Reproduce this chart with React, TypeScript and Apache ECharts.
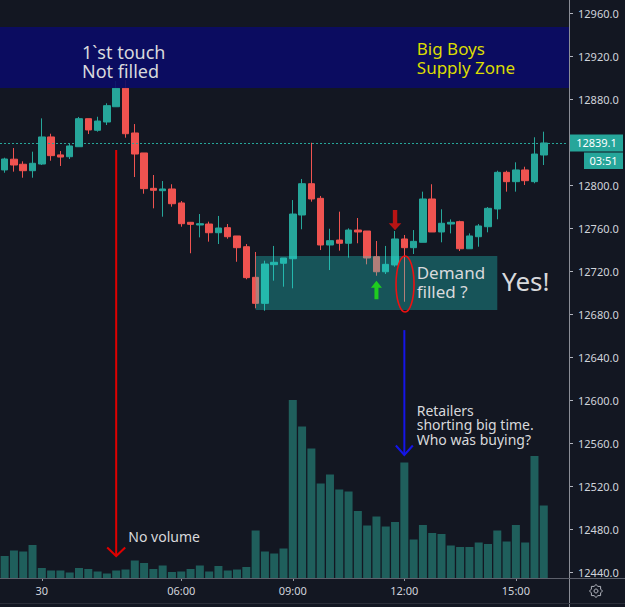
import React, { useEffect, useRef } from "react";
import * as echarts from "echarts";

// ---- data (15-minute bars) ----
const opens = [
  12814, 12824, 12819.3, 12813.3, 12819.5, 12844.7, 12828, 12826.3, 12835.6, 12861.7,
  12850.9, 12858.6, 12872.8, 12890, 12848.4, 12829.8, 12796.9, 12794.7, 12796.3, 12783.3,
  12765.3, 12762.8, 12763.7, 12755.6, 12760.3, 12752.6, 12742.6, 12714.1, 12689.9, 12725.9,
  12727.2, 12731.4, 12772.1, 12801.2, 12787.6, 12744.2, 12748.8, 12745.8, 12758.1, 12757.2,
  12733.3, 12719.3, 12725.6, 12749.8, 12741.7, 12746.7, 12787, 12756.3, 12763.7, 12765.9,
  12740.7, 12751.9, 12761.2, 12777.7, 12811.8, 12803.1, 12814, 12803.1, 12827.9,
];
const closes = [
  12824.2, 12818.6, 12813.3, 12820.2, 12844.7, 12827.3, 12826, 12836.3, 12861.7, 12851.2,
  12859.5, 12873.8, 12890, 12847.7, 12828.8, 12796.6, 12795.1, 12796.3, 12782.6, 12764,
  12763.4, 12764, 12755.6, 12760, 12751.9, 12741.7, 12713.8, 12689.9, 12726.5, 12728.1,
  12732.1, 12773, 12801.2, 12787, 12744.2, 12748.2, 12745.8, 12758.1, 12756.3, 12732.1,
  12719.3, 12726.2, 12749.8, 12741.7, 12747.6, 12787, 12756.3, 12764.4, 12765.3, 12740.7,
  12752.6, 12761.9, 12778.3, 12811.8, 12803.1, 12814, 12804, 12828.8, 12839.1,
];
const lows = [
  12811.4, 12812.4, 12806.8, 12806.8, 12818.6, 12822.6, 12817.7, 12824.2, 12835.6, 12847.4,
  12849.6, 12855.8, 12872.8, 12844, 12807.4, 12791.9, 12778.3, 12770.5, 12779.8, 12761.2,
  12736.5, 12751.3, 12747.3, 12745.1, 12750, 12728.6, 12712.3, 12685.3, 12683, 12711,
  12705.4, 12703.9, 12758.8, 12784.5, 12739.5, 12720.9, 12738.9, 12732.4, 12745.8, 12726.2,
  12715.6, 12717.2, 12724, 12691.4, 12735.8, 12746.7, 12756.3, 12746.7, 12755, 12738.6,
  12740.7, 12742.6, 12756, 12768.1, 12793.8, 12793.8, 12800, 12801.6, 12818.6,
];
const highs = [
  12825.4, 12834.4, 12822, 12831, 12862, 12847.7, 12831.6, 12838.1, 12863.3, 12861.7,
  12863.5, 12876, 12896.7, 12897.7, 12856.7, 12829.8, 12809.3, 12803.7, 12800.7, 12785.1,
  12765.6, 12773, 12765.9, 12771.2, 12763.7, 12752.6, 12745.1, 12737.7, 12729.6, 12743.3,
  12732.1, 12786, 12805.6, 12839.3, 12789.8, 12759.3, 12775.2, 12759.7, 12769.3, 12757.2,
  12747.9, 12743.3, 12757.2, 12753.5, 12758.1, 12793.8, 12800.7, 12777.4, 12768, 12766.8,
  12755, 12763.7, 12779.5, 12813.3, 12813.3, 12821.1, 12817, 12844.4, 12849.6,
];
const volumes = [
  22, 27.5, 26.5, 33, 10, 7.5, 7.5, 5.5, 10, 9,
  6.5, 4.5, 7.5, 8.5, 17.5, 15, 9, 12.5, 6, 6.5,
  9, 12.5, 6.5, 12, 7.5, 8.5, 11, 47.5, 26.5, 24.5,
  29.5, 178, 151.5, 129.5, 94.5, 103.5, 88.5, 86.5, 67, 52.5,
  61.5, 51.5, 56, 115.5, 38.5, 53, 45, 44, 32.5, 31,
  31, 35.5, 34, 47.5, 36.5, 53, 35.5, 122, 72.5,
];
const firstBarTime = "01:15";
const emptyBarsRight = 2;
const tickTimes = ["02:15", "06:00", "09:00", "12:00", "15:00"];
const tickNames = ["30", "06:00", "09:00", "12:00", "15:00"];
const priceMin = 12440;
const priceMax = 12960;
const priceStep = 40;
const volumeMax = 180;
const lastPrice = 12839.1;
const countdown = "03:51";
const supplyZone = { low: 12890.2, high: 12947 };
const demandZone = { fromBar: 27, toBar: 53, low: 12683.7, high: 12734 };

function buildCategories(): string[] {
  const [h, m] = firstBarTime.split(":").map(Number);
  const start = h * 60 + m;
  const out: string[] = [];
  for (let i = 0; i < opens.length + emptyBarsRight; i++) {
    const t = start + i * 15;
    const hh = String(Math.floor(t / 60) % 24).padStart(2, "0");
    const mm = String(t % 60).padStart(2, "0");
    out.push(`${hh}:${mm}`);
  }
  return out;
}

const UP = "#26a69a";
const DOWN = "#ef5350";
const BG = "#131722";
const FONT = "'Noto Sans', 'Open Sans', sans-serif";
const TXT = "#d8d9dc";

export default function App() {
  const ref = useRef<HTMLDivElement>(null);

  useEffect(() => {
    if (!ref.current) return;
    const chart = echarts.init(ref.current, undefined, { renderer: "svg", width: 625, height: 607 });
    const categories = buildCategories();
    const candleData = opens.map((o, i) => [o, closes[i], lows[i], highs[i]]);

    chart.setOption({
      animation: false,
      backgroundColor: BG,
      grid: [
        { left: 0, right: 58, top: 13, bottom: 35 },
        { left: 0, right: 58, top: 607 - 29 - volumeMax, bottom: 29 },
      ],
      xAxis: [
        { type: "category", gridIndex: 0, data: categories, boundaryGap: true, show: false },
        {
          type: "category",
          gridIndex: 1,
          data: categories,
          boundaryGap: true,
          axisLine: { show: false },
          axisTick: {
            show: true,
            alignWithLabel: true,
            length: 3,
            interval: (_i: number, v: string) => tickTimes.includes(v),
            lineStyle: { color: "#9598a1" },
          },
          axisLabel: {
            interval: (_i: number, v: string) => tickTimes.includes(v),
            formatter: (v: string) => {
              const k = tickTimes.indexOf(v);
              return k >= 0 ? tickNames[k] : "";
            },
            color: "#d1d4dc",
            fontSize: 11,
            fontFamily: FONT,
            margin: 7,
          },
          splitLine: { show: false },
        },
      ],
      yAxis: [
        {
          type: "value",
          gridIndex: 0,
          position: "right",
          offset: 2,
          min: priceMin,
          max: priceMax,
          interval: priceStep,
          axisLine: { show: false },
          axisTick: { show: true, length: 4, lineStyle: { color: "#b2b5be" } },
          axisLabel: {
            formatter: (v: number) => v.toFixed(1),
            color: "#d1d4dc",
            fontSize: 11,
            fontFamily: FONT,
            margin: 9,
          },
          splitLine: { show: false },
        },
        { type: "value", gridIndex: 1, min: 0, max: volumeMax, show: false, splitLine: { show: false } },
      ],
      series: [
        {
          type: "bar",
          xAxisIndex: 1,
          yAxisIndex: 1,
          data: volumes,
          barWidth: 8,
          itemStyle: { color: "#1f5f5c" },
          z: 1,
        },
        {
          type: "candlestick",
          xAxisIndex: 0,
          yAxisIndex: 0,
          data: candleData,
          barWidth: 7,
          itemStyle: { color: UP, color0: DOWN, borderColor: UP, borderColor0: DOWN, borderWidth: 1 },
          z: 3,
          markLine: {
            silent: true,
            symbol: "none",
            label: { show: false },
            lineStyle: { color: UP, type: [2, 2], width: 1 },
            data: [{ yAxis: lastPrice }],
          },
        },
      ],
    });

    const P = (bar: number, price: number) => chart.convertToPixel({ gridIndex: 0 }, [bar, price]) as number[];
    const V = (bar: number, vol: number) => chart.convertToPixel({ gridIndex: 1 }, [bar, vol]) as number[];

    const sTop = P(0, supplyZone.high)[1];
    const sBot = P(0, supplyZone.low)[1];
    const dA = P(demandZone.fromBar, demandZone.high);
    const dB = P(demandZone.toBar, demandZone.low);
    const redTop = P(12, 12832.6);
    const redBot = V(12, 22);
    const blueTop = P(43, 12665);
    const blueBot = V(43, 123);
    const rArrowTop = P(42, 12776.7);
    const rArrowBot = P(42, 12758);
    const gArrowTop = P(40, 12711);
    const gArrowBot = P(40, 12693.7);
    const ell = P(43, 12707.9);
    const lastY = P(0, lastPrice)[1];

    const text = (t: string, x: number, y: number, size: number, lh: number, fill = TXT) => ({
      type: "text",
      x,
      y,
      z: 30,
      silent: true,
      style: {
        text: t,
        fill,
        font: `${size}px ${FONT}`,
        lineHeight: lh,
        textAlign: "left",
        textVerticalAlign: "middle",
        align: "left",
        verticalAlign: "middle",
      },
    });

    const gearPts: number[][] = [];
    for (let k = 0; k < 16; k++) {
      const a = (k / 16) * Math.PI * 2;
      const r = k % 2 === 0 ? 6.5 : 5;
      gearPts.push([596 + r * Math.cos(a), 591 + r * Math.sin(a)]);
    }

    chart.setOption({
      graphic: [
        // supply zone
        { type: "rect", z: 10, silent: true, shape: { x: 0, y: sTop, width: 569, height: sBot - sTop }, style: { fill: "rgba(11,11,103,0.9)" } },
        // demand zone
        { type: "rect", z: 10, silent: true, shape: { x: dA[0], y: dA[1], width: dB[0] - dA[0], height: dB[1] - dA[1] }, style: { fill: "rgba(32,226,217,0.3)" } },
        // axes borders
        { type: "line", z: 5, silent: true, shape: { x1: 569.5, y1: 0, x2: 569.5, y2: 607 }, style: { stroke: "#8a8d96", lineWidth: 1 } },
        { type: "line", z: 5, silent: true, shape: { x1: 0, y1: 578.5, x2: 625, y2: 578.5 }, style: { stroke: "#5d606b", lineWidth: 1 } },
        { type: "line", z: 5, silent: true, shape: { x1: 0, y1: 603.5, x2: 625, y2: 603.5 }, style: { stroke: "#2a2e39", lineWidth: 1 } },
        // red line + arrowhead
        { type: "line", z: 20, silent: true, shape: { x1: redTop[0], y1: redTop[1], x2: redTop[0], y2: redBot[1] }, style: { stroke: "#e00000", lineWidth: 2 } },
        { type: "polyline", z: 20, silent: true, shape: { points: [[redTop[0] - 9, redBot[1] - 8.5], [redTop[0], redBot[1]], [redTop[0] + 9, redBot[1] - 8.5]] }, style: { stroke: "#e00000", lineWidth: 2, fill: "none" } },
        // blue line + arrowhead
        { type: "line", z: 20, silent: true, shape: { x1: blueTop[0], y1: blueTop[1], x2: blueTop[0], y2: blueBot[1] }, style: { stroke: "#1515e8", lineWidth: 2 } },
        { type: "polyline", z: 20, silent: true, shape: { points: [[blueTop[0] - 8.5, blueBot[1] - 9.5], [blueTop[0], blueBot[1]], [blueTop[0] + 8.5, blueBot[1] - 9.5]] }, style: { stroke: "#1515e8", lineWidth: 2, fill: "none" } },
        // red down arrow
        {
          type: "polygon", z: 20, silent: true,
          shape: {
            points: [
              [rArrowTop[0] - 2.2, rArrowTop[1]], [rArrowTop[0] + 2.2, rArrowTop[1]],
              [rArrowTop[0] + 2.2, rArrowBot[1] - 7], [rArrowTop[0] + 6.3, rArrowBot[1] - 7],
              [rArrowTop[0], rArrowBot[1]], [rArrowTop[0] - 6.3, rArrowBot[1] - 7],
              [rArrowTop[0] - 2.2, rArrowBot[1] - 7],
            ],
          },
          style: { fill: "#b81414" },
        },
        // green up arrow
        {
          type: "polygon", z: 20, silent: true,
          shape: {
            points: [
              [gArrowTop[0], gArrowTop[1]], [gArrowTop[0] + 5.5, gArrowTop[1] + 7],
              [gArrowTop[0] + 2, gArrowTop[1] + 7], [gArrowTop[0] + 2, gArrowBot[1]],
              [gArrowTop[0] - 2, gArrowBot[1]], [gArrowTop[0] - 2, gArrowTop[1] + 7],
              [gArrowTop[0] - 5.5, gArrowTop[1] + 7],
            ],
          },
          style: { fill: "#1fcc1f" },
        },
        // ellipse
        { type: "ellipse", z: 20, silent: true, shape: { cx: ell[0] + 0.7, cy: ell[1], rx: 9, ry: 28 }, style: { fill: "none", stroke: "#ee1111", lineWidth: 1.6 } },
        // texts
        text("1`st touch\nNot filled", 82, 61.4, 18, 19.8),
        text("Big Boys\nSupply Zone", 416.8, 57.9, 17, 18.8, "#dcdc00"),
        text("Demand\nfilled ?", 416.7, 282.2, 17, 18.5),
        text("Yes!", 502, 280.5, 26, 30),
        text("No volume", 128.3, 536, 14, 16),
        text("Retailers\nshorting big time.\nWho was buying?", 416.7, 424.5, 14, 14.5),
        // last price tag
        { type: "rect", z: 25, silent: true, shape: { x: 570, y: lastY - 8.5, width: 53, height: 17 }, style: { fill: UP } },
        {
          type: "text", z: 26, silent: true, x: 596.5, y: lastY,
          style: { text: lastPrice.toFixed(1), fill: "#ffffff", font: `11px ${FONT}`, lineHeight: 13, textAlign: "center", textVerticalAlign: "middle", align: "center", verticalAlign: "middle" },
        },
        { type: "rect", z: 25, silent: true, shape: { x: 584, y: lastY + 9.5, width: 39, height: 16.5 }, style: { fill: UP } },
        {
          type: "text", z: 26, silent: true, x: 603.5, y: lastY + 17.8,
          style: { text: countdown, fill: "#ffffff", font: `11px ${FONT}`, lineHeight: 13, textAlign: "center", textVerticalAlign: "middle", align: "center", verticalAlign: "middle" },
        },
        // gear icon
        { type: "polygon", z: 25, silent: true, shape: { points: gearPts }, style: { fill: "none", stroke: "#b2b5be", lineWidth: 1 } },
        { type: "circle", z: 25, silent: true, shape: { cx: 596, cy: 591, r: 2 }, style: { fill: "none", stroke: "#b2b5be", lineWidth: 1 } },
      ],
    });

    return () => {
      chart.dispose();
    };
  }, []);

  return <div ref={ref} style={{ position: "absolute", left: 0, top: 0, width: 625, height: 607 }} />;
}
